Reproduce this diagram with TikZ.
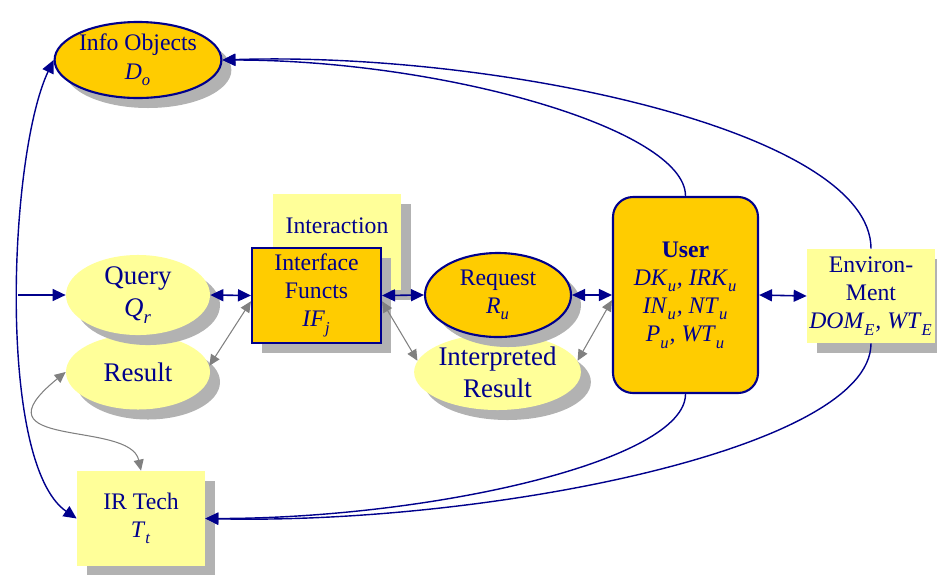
\documentclass[tikz,border=0pt]{standalone}
\usepackage{fontspec}
\setmainfont{Liberation Serif}
\usetikzlibrary{arrows.meta,shapes.geometric,shadows}
\definecolor{navy}{RGB}{0,0,140}
\definecolor{gold}{RGB}{255,204,0}
\definecolor{paleyellow}{RGB}{255,255,153}
\definecolor{shadowgray}{RGB}{178,178,178}
\definecolor{linkgray}{RGB}{128,128,128}
\newcommand{\ivar}[2]{\textit{#1}\textsubscript{\raisebox{-0.35ex}{\textit{#2}}}}

\begin{document}
\begin{tikzpicture}[>={Triangle[length=0.26cm,width=0.24cm]},font=\fontsize{13.5}{16}\selectfont]
   \tikzstyle{every node}=[text=navy,align=center,inner sep=0pt]
   \tikzstyle{shaded}=[drop shadow={shadow xshift=0.2cm,shadow yshift=-0.2cm,fill=shadowgray,opacity=1}]
   \tikzstyle{gold oval}=[ellipse,shaded,fill=gold,draw=navy,line width=1.2pt]
   \tikzstyle{pale oval}=[ellipse,shaded,fill=paleyellow,font=\fontsize{15.3}{18.2}\selectfont]
   \tikzstyle{pale box}=[rectangle,shaded,fill=paleyellow,minimum width=2.56cm]
   \tikzstyle{gold box}=[rectangle,fill=gold,draw=navy,line width=1.2pt]
   \tikzstyle{link}=[<->,draw=navy,line width=0.9pt]
   \tikzstyle{arc}=[draw=navy,line width=0.8pt]
   \tikzstyle{back link}=[<->,draw=linkgray,line width=0.6pt,>={Triangle[length=0.22cm,width=0.2cm]}]

   \useasboundingbox (0,0) rectangle (18.74,-11.48);

   \node[gold oval,minimum width=2.88cm,minimum height=1.52cm]  (info)  at (2.76,-1.20)  {Info Objects\\\ivar{D}{o}};
   \node[pale oval,minimum width=2.88cm,minimum height=1.50cm]  (result)  at (2.76,-7.44)  {Result};
   \node[pale oval,minimum width=2.88cm,minimum height=1.56cm]  (query)  at (2.76,-5.90)  {Query\\\ivar{Q}{r}};
   \node[pale box,inner ysep=0.38cm,text height=0.4cm,text depth=0.76cm]  (interaction)  at (6.74,-4.84)  {Interaction};
   \node[gold box,shaded,minimum width=2.58cm,minimum height=1.90cm]  (interface)  at (6.33,-5.91)  {Interface\\Functs\\\ivar{IF}{j}};
   \node[pale oval,minimum width=2.90cm,minimum height=1.52cm]  (interp)  at (9.95,-7.44)  {Interpreted\\Result};
   \node[gold oval,minimum width=2.92cm,minimum height=1.68cm]  (request)  at (9.96,-5.90)  {Request\\\ivar{R}{u}};
   \node[gold box,rounded corners=0.4cm,minimum width=2.90cm,minimum height=3.92cm]  (user)  at (13.71,-5.90)
        {\textbf{User}\\\ivar{DK}{u}\textit{,} \ivar{IRK}{u}\\\ivar{IN}{u}\textit{,} \ivar{NT}{u}\\\ivar{P}{u}\textit{,} \ivar{WT}{u}};
   \node[pale box,minimum height=1.88cm]  (env)  at (17.42,-5.92)  {Environ-\\Ment\\\ivar{DOM}{E}\textit{,} \ivar{WT}{E}};
   \node[pale box,minimum height=1.90cm]  (irtech)  at (2.82,-10.37)  {IR Tech\\\ivar{T}{t}};

   \draw[arc,<->] (info.west) .. controls +(-0.9,-1.9) and +(-1.6,1.1) .. coordinate[pos=0.49] (tap) (irtech.west);
   \draw[arc,->] (user.north) .. controls +(0,1.34) and +(4.4,0) .. (info.east);
   \draw[arc,->] (env.north) .. controls +(0,2.38) and +(5.4,0.18) .. (info.east);
   \draw[arc,->] (user.south) .. controls +(0,-1.34) and +(4.5,0) .. (irtech.east);
   \draw[arc,->] (env.south) .. controls +(0,-2.14) and +(5.5,-0.13) .. (irtech.east);
   \draw[back link] (result.west) .. controls +(-1.92,-1.56) and +(-0.22,1.02) .. (irtech.north);

   \path
     (tap |- query.west)  edge  [arc,->]  (query.west)
     (query.east)  edge  [link]  (interface.west)
     (interface.east)  edge  [link]  (request.west)
     (request.east)  edge  [link]  (user.west)
     (user.east)  edge  [link]  (env.west)
     (interface.185)  edge  [back link]  (result.5)
     (interface.355)  edge  [back link]  (interp.172)
     (user.184)  edge  [back link]  (interp.8);
\end{tikzpicture}
\end{document}
